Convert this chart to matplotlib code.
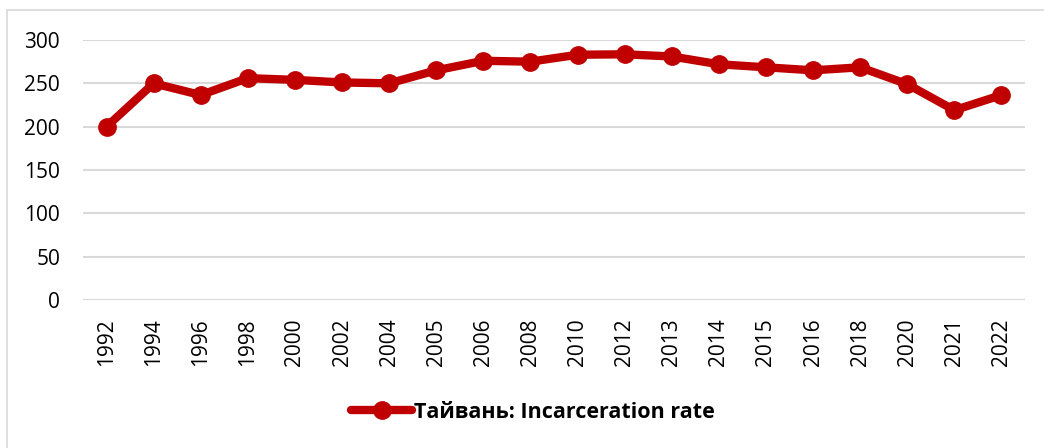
import matplotlib
matplotlib.use("Agg")
import matplotlib.pyplot as plt
from matplotlib.patches import Rectangle

years = ["1992", "1994", "1996", "1998", "2000", "2002", "2004", "2005", "2006", "2008",
         "2010", "2012", "2013", "2014", "2015", "2016", "2018", "2020", "2021", "2022"]
rate = [200, 250, 236.5, 256, 254, 251, 250, 265, 276, 275,
        283, 283.5, 281, 272, 268.5, 265, 268.5, 249, 219, 236.5]
series_label = "Тайвань: Incarceration rate"
yticks = [0, 50, 100, 150, 200, 250, 300]

plt.rcParams['font.family'] = ['Open Sans', 'DejaVu Sans']

W, H = 1044, 448
fig = plt.figure(figsize=(W / 100, H / 100), dpi=100)
ax = fig.add_axes([83 / W, 1 - 300 / H, (1025 - 83) / W, (300 - 40) / H])

x = list(range(len(years)))
ax.plot(x, rate, color="#C00000", linewidth=6, marker="o", markersize=12.5,
        solid_capstyle="round", solid_joinstyle="round", label=series_label, zorder=3)

ax.set_xlim(-0.5, len(years) - 0.5)
ax.set_ylim(0, 300)
ax.set_yticks(yticks)
ax.set_xticks(x)
ax.set_xticklabels(years, rotation=90)
ax.tick_params(axis="both", length=0, labelsize=15, colors="#000000")
ax.tick_params(axis="y", pad=16.5)
ax.tick_params(axis="x", pad=13)
for s in ax.spines.values():
    s.set_visible(False)
ax.grid(axis="y", color="#D9D9D9", linewidth=1.5)
ax.set_axisbelow(True)

leg = fig.legend(loc="center", bbox_to_anchor=(533 / W, 1 - 412 / H), frameon=False,
                 handlelength=2.85, handletextpad=0.1, prop={"weight": "bold", "size": 15.5})

fig.patches.append(Rectangle((7 / W, -0.1), 1.2, 1 - 10 / H + 0.1, transform=fig.transFigure,
                             fill=False, edgecolor="#D9D9D9", linewidth=1.2, zorder=0))

fig.savefig("out.png", dpi=100)
